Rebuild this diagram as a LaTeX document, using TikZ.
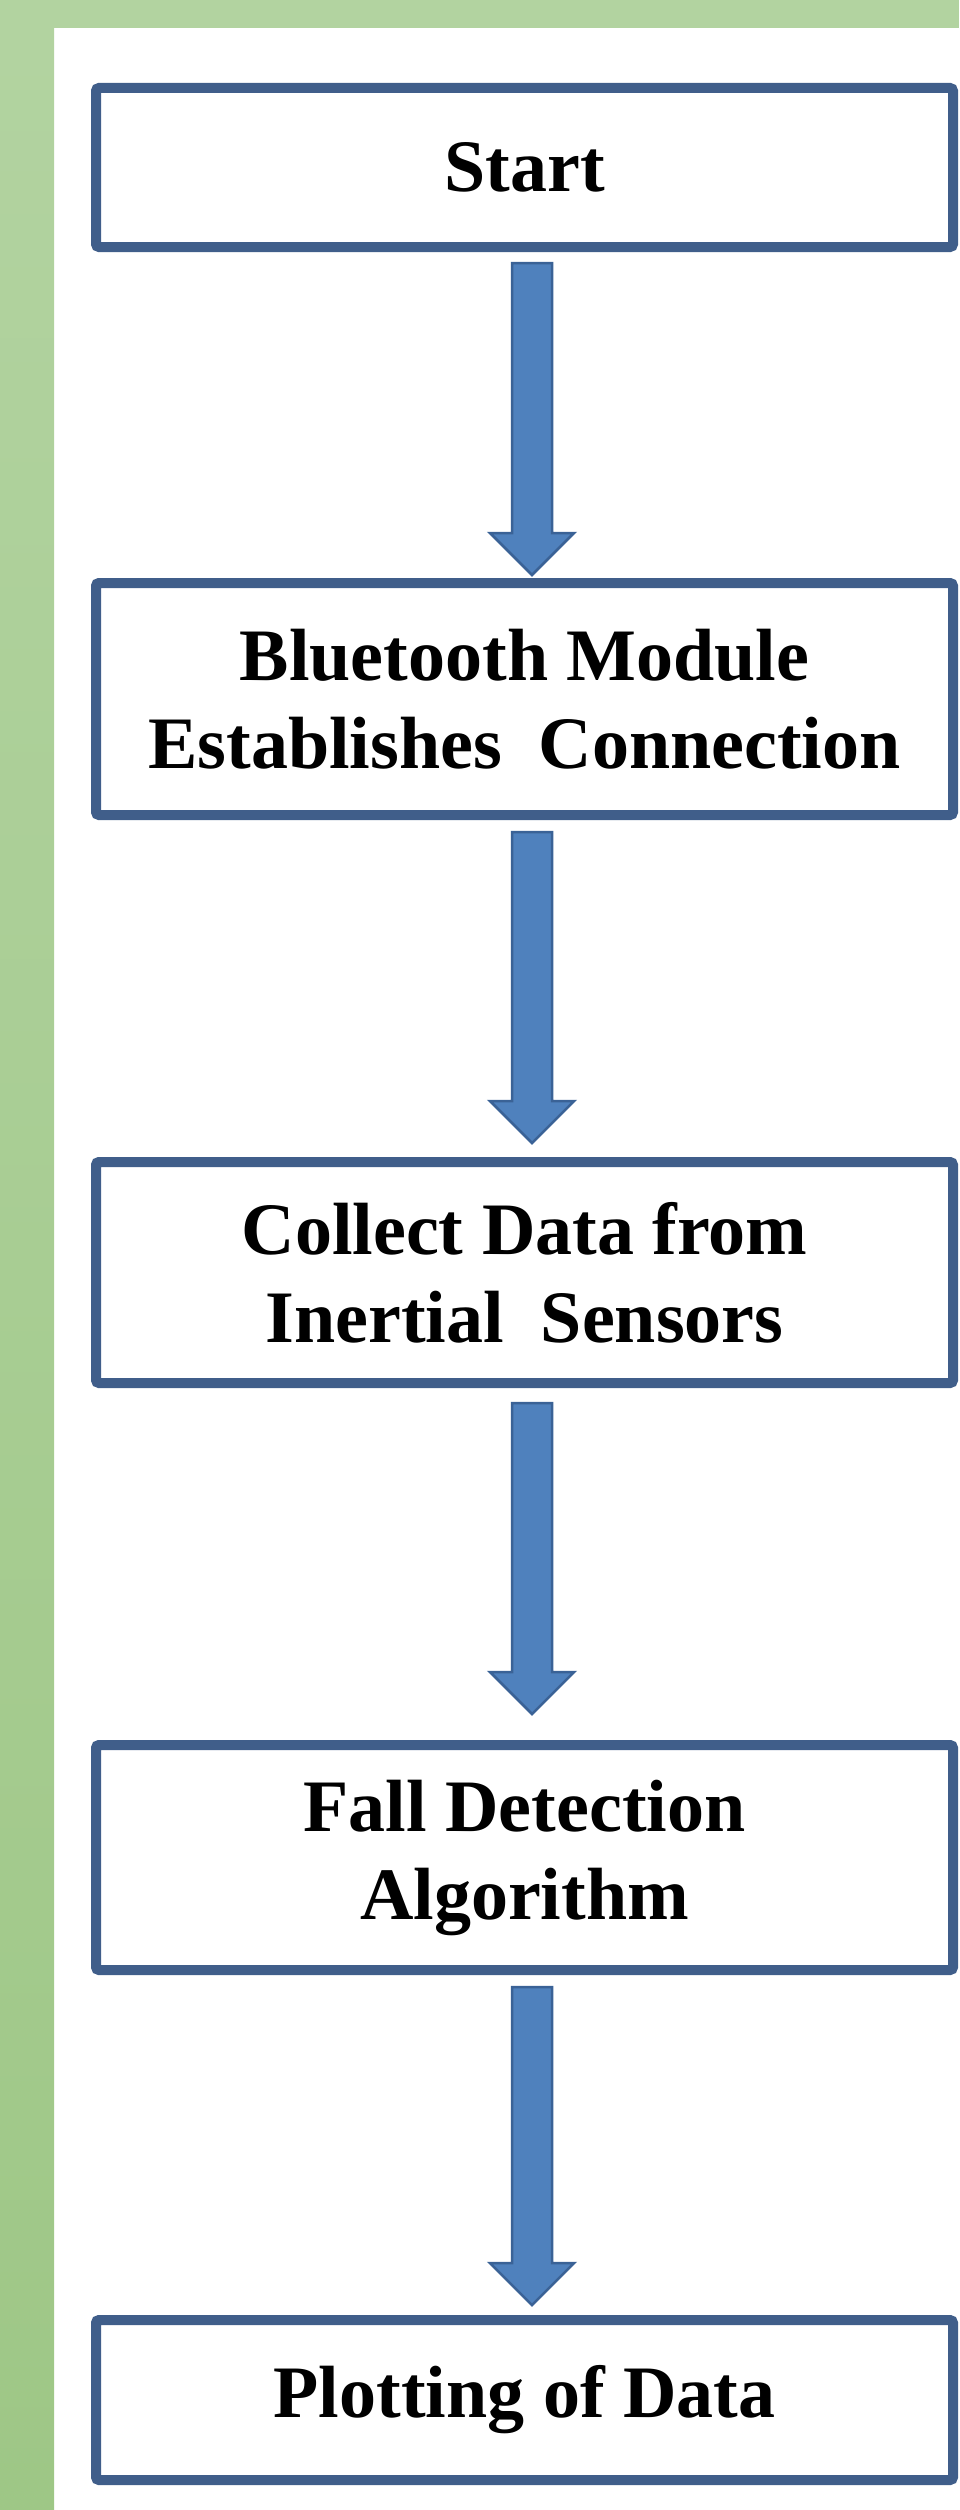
\documentclass[tikz,border=0pt]{standalone}
\usepackage{fontspec}
\setmainfont{Liberation Serif}
\usetikzlibrary{calc}

\definecolor{framegreen}{RGB}{178,211,160}
\definecolor{framegreenlow}{RGB}{158,199,134}
\definecolor{boxline}{RGB}{64,94,138}
\definecolor{arrowfill}{RGB}{79,129,189}
\definecolor{arrowline}{RGB}{58,98,150}

\tikzset{
  stepbox/.style={draw=boxline,line width=10pt,rounded corners=3pt,fill=white,
    minimum width=857pt,align=center,inner sep=0pt,
    font=\fontsize{74}{88}\selectfont\bfseries},
  arrowshape/.style={draw=arrowline,fill=arrowfill,line width=2.5pt,line join=miter}
}

% block arrow from #1 (top of shaft) to #2 (tip)
\newcommand{\flowarrow}[2]{%
  \draw[arrowshape] let \p1=(#1), \p2=(#2) in
    (\x1-20pt,\y1) -- (\x1+20pt,\y1) -- (\x1+20pt,\y2+42pt) -- (\x1+42pt,\y2+42pt)
    -- (\x1,\y2) -- (\x1-42pt,\y2+42pt) -- (\x1-20pt,\y2+42pt) -- cycle;}

\begin{document}
\begin{tikzpicture}[x=1pt,y=-1pt]
  \useasboundingbox (0,0) rectangle (959,2510);

  % green frame
  \fill[framegreen] (0,0) rectangle (959,28);
  \shade[top color=framegreen,bottom color=framegreenlow] (0,28) rectangle (54,2510);

  \node[stepbox,minimum height=159pt] at (524.5,167.5) (start) {Start};
  \node[stepbox,minimum height=232pt] at (524.5,699) (bt) {Bluetooth Module\\Establishes\ \ Connection};
  \node[stepbox,minimum height=221pt] at (524.5,1272.5) (collect) {Collect Data from\\Inertial\ \ Sensors};
  \node[stepbox,minimum height=225pt] at (524.5,1857.5) (fall) {Fall Detection\\Algorithm};
  \node[stepbox,minimum height=160pt] at (524.5,2400) (plot) {Plotting of Data};

  \flowarrow{[xshift=7.5pt,yshift=-11pt]start.south}{[xshift=7.5pt,yshift=3pt]bt.north}
  \flowarrow{[xshift=7.5pt,yshift=-12pt]bt.south}{[xshift=7.5pt,yshift=14pt]collect.north}
  \flowarrow{[xshift=7.5pt,yshift=-15pt]collect.south}{[xshift=7.5pt,yshift=26pt]fall.north}
  \flowarrow{[xshift=7.5pt,yshift=-12pt]fall.south}{[xshift=7.5pt,yshift=10pt]plot.north}

\end{tikzpicture}
\end{document}
